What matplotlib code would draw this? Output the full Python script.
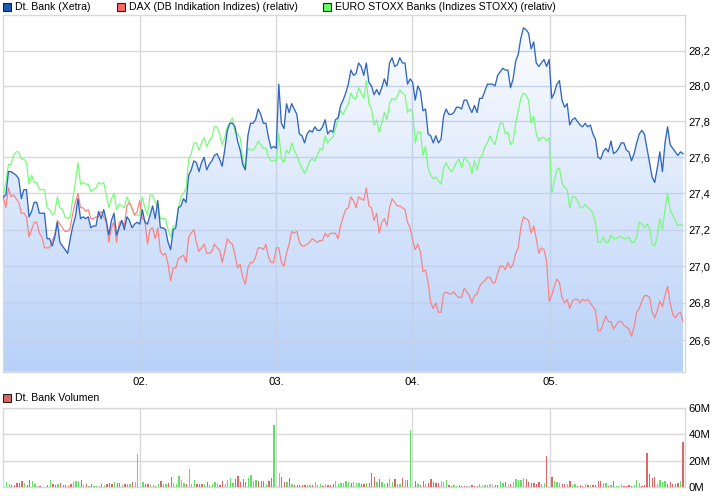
import numpy as np
import matplotlib
matplotlib.use("Agg")
import matplotlib.pyplot as plt
from matplotlib.colors import LinearSegmentedColormap
from matplotlib.patches import Rectangle

plt.rcParams['font.family'] = ['Liberation Sans', 'DejaVu Sans']

# price series (log axis)
bank = [27.38, 27.39, 27.52, 27.52, 27.51, 27.50, 27.48, 27.37, 27.42, 27.42,
        27.27, 27.30, 27.35, 27.35, 27.29, 27.29, 27.29, 27.15, 27.15, 27.11,
        27.16, 27.24, 27.13, 27.11, 27.09, 27.07, 27.15, 27.22, 27.27, 27.37,
        27.26, 27.27, 27.26, 27.27, 27.21, 27.22, 27.22, 27.30, 27.26, 27.31,
        27.25, 27.17, 27.25, 27.29, 27.17, 27.21, 27.25, 27.20, 27.27, 27.25,
        27.21, 27.23, 27.24, 27.23, 27.31, 27.24, 27.23, 27.28, 27.33, 27.26,
        27.36, 27.21, 27.21, 27.20, 27.13, 27.09, 27.20, 27.21, 27.32, 27.33,
        27.37, 27.35, 27.50,
        27.53, 27.58, 27.57, 27.52, 27.57, 27.60, 27.53, 27.56, 27.58, 27.61,
        27.62, 27.59, 27.55, 27.64, 27.75, 27.79, 27.79, 27.77, 27.69, 27.64,
        27.56, 27.53, 27.72, 27.79, 27.79, 27.81, 27.87, 27.84, 27.79, 27.79,
        27.71, 27.65, 27.66, 27.65, 28.01, 27.79, 27.76, 27.90, 27.85, 27.90,
        27.87, 27.84, 27.73, 27.72, 27.68, 27.73, 27.75, 27.74, 27.77, 27.75,
        27.75, 27.77, 27.81, 27.73, 27.75, 27.74, 27.81, 27.82, 27.89, 27.92,
        27.96, 28.01, 28.09,
        28.06, 28.07, 28.13, 28.11, 28.06, 28.13, 28.02, 28.00, 27.95, 27.98,
        27.95, 27.99, 28.04, 28.00, 28.13, 28.16, 28.11, 28.12, 28.16, 28.13,
        28.13, 28.01, 28.04, 28.02, 27.92, 28.00, 27.97, 27.86, 27.87, 27.73,
        27.72, 27.68, 27.72, 27.68, 27.70, 27.83, 27.87, 27.84, 27.84, 27.85,
        27.88, 27.88, 27.87, 27.92, 27.92, 27.88, 27.85, 27.89, 27.85, 27.93,
        27.93, 27.97, 28.01, 28.01, 28.01, 28.00, 28.06, 28.08, 28.10, 28.09,
        28.09, 27.99, 28.04, 28.14, 28.18, 28.27, 28.33, 28.32, 28.30,
        28.21, 28.25, 28.13, 28.11, 28.13, 28.15, 28.11, 28.15, 27.93, 27.96,
        28.01, 28.03, 27.92, 27.88, 27.90, 27.78, 27.81, 27.82, 27.80, 27.78,
        27.77, 27.79, 27.77, 27.78, 27.73, 27.70, 27.60, 27.59, 27.63, 27.65,
        27.63, 27.69, 27.62, 27.63, 27.65, 27.68, 27.68, 27.64, 27.63, 27.58,
        27.62, 27.68, 27.73, 27.75, 27.73, 27.65, 27.57, 27.49, 27.46, 27.54,
        27.63, 27.52, 27.68, 27.77, 27.67, 27.65, 27.63, 27.61, 27.63, 27.62]

dax = [27.38, 27.32, 27.43, 27.38, 27.39, 27.37, 27.35, 27.29, 27.29, 27.27,
       27.16, 27.20, 27.24, 27.24, 27.18, 27.16, 27.10, 27.10, 27.10, 27.14,
       27.17, 27.25, 27.23, 27.21, 27.19, 27.19, 27.21, 27.29, 27.35, 27.40,
       27.32, 27.32, 27.30, 27.31, 27.26, 27.26, 27.27, 27.27, 27.30, 27.27,
       27.24, 27.13, 27.21, 27.24, 27.13, 27.24, 27.25, 27.22, 27.33, 27.35,
       27.32, 27.28, 27.30, 27.36, 27.26, 27.25, 27.12, 27.20, 27.21, 27.15,
       27.21, 27.08, 27.06, 27.07, 27.01, 26.92, 26.99, 26.99, 27.04, 27.05,
       27.06, 27.02, 27.16,
       27.18, 27.20, 27.13, 27.08, 27.10, 27.12, 27.07, 27.07, 27.08, 27.12,
       27.10, 27.09, 27.02, 27.08, 27.15, 27.13, 27.12, 27.06, 26.99, 27.01,
       26.94, 26.90, 26.99, 27.02, 27.02, 27.05, 27.10, 27.10, 27.09, 27.12,
       27.05, 27.02, 27.02, 27.10, 27.10, 27.02, 27.00, 27.07, 27.12, 27.19,
       27.18, 27.19, 27.13, 27.11, 27.11, 27.12, 27.13, 27.15, 27.14, 27.13,
       27.14, 27.14, 27.18, 27.16, 27.18, 27.18, 27.18, 27.15, 27.22, 27.27,
       27.31, 27.32, 27.38, 27.36, 27.32, 27.38, 27.37, 27.36, 27.43, 27.33,
       27.32, 27.25, 27.29, 27.18, 27.24, 27.26, 27.22, 27.32, 27.37, 27.35,
       27.33, 27.33, 27.32, 27.31, 27.24, 27.21, 27.14, 27.09, 27.12, 27.08,
       26.97, 26.98, 26.91, 26.80, 26.77, 26.80, 26.75, 26.75, 26.85, 26.86,
       26.85, 26.85, 26.86, 26.84, 26.83, 26.83, 26.88, 26.86, 26.84, 26.80,
       26.84, 26.85, 26.89, 26.91, 26.92, 26.94, 26.94, 26.91, 26.91, 26.96,
       27.00, 27.00, 26.98, 27.02, 26.99, 27.01, 27.07, 27.10, 27.21, 27.27,
       27.26, 27.25, 27.18, 27.22, 27.15, 27.07, 27.10, 27.09, 27.03, 26.81,
       26.84, 26.89, 26.93, 26.91, 26.83, 26.80, 26.82, 26.77, 26.81, 26.82,
       26.82, 26.80, 26.82, 26.81, 26.82, 26.80, 26.78, 26.76, 26.65, 26.65,
       26.69, 26.73, 26.70, 26.70, 26.66, 26.68, 26.70, 26.70, 26.68, 26.67,
       26.66, 26.62, 26.67, 26.75, 26.77, 26.81, 26.84, 26.84, 26.83, 26.75,
       26.72, 26.76, 26.81, 26.78, 26.84, 26.89, 26.80, 26.74, 26.72, 26.74,
       26.75, 26.70]

stoxx = [27.39, 27.46, 27.56, 27.56, 27.61, 27.63, 27.63, 27.59, 27.59, 27.57,
         27.45, 27.50, 27.46, 27.46, 27.42, 27.42, 27.42, 27.32, 27.31, 27.28,
         27.29, 27.38, 27.32, 27.31, 27.27, 27.26, 27.27, 27.37, 27.46, 27.57,
         27.45, 27.46, 27.45, 27.45, 27.41, 27.42, 27.43, 27.46, 27.45, 27.46,
         27.39, 27.32, 27.37, 27.40, 27.31, 27.34, 27.33, 27.32, 27.38, 27.35,
         27.31, 27.28, 27.28, 27.28, 27.38, 27.32, 27.28, 27.39, 27.39, 27.35,
         27.33, 27.26, 27.26, 27.26, 27.20, 27.16, 27.22, 27.22, 27.32, 27.38,
         27.40, 27.43, 27.59,
         27.62, 27.68, 27.68, 27.64, 27.68, 27.71, 27.66, 27.69, 27.71, 27.77,
         27.77, 27.73, 27.67, 27.71, 27.77, 27.79, 27.82, 27.74, 27.73, 27.71,
         27.59, 27.54, 27.65, 27.64, 27.64, 27.66, 27.69, 27.67, 27.65, 27.65,
         27.60, 27.58, 27.58, 27.58, 27.73, 27.59, 27.57, 27.64, 27.62, 27.68,
         27.64, 27.61, 27.57, 27.54, 27.51, 27.54, 27.58, 27.59, 27.58, 27.61,
         27.65, 27.64, 27.72, 27.68, 27.70, 27.71, 27.76, 27.81, 27.86, 27.84,
         27.87, 27.90, 27.96,
         27.93, 27.93, 27.99, 27.96, 27.93, 28.03, 27.90, 27.87, 27.78, 27.81,
         27.74, 27.79, 27.85, 27.81, 27.90, 27.93, 27.92, 27.94, 27.98, 27.96,
         27.95, 27.85, 27.87, 27.85, 27.68, 27.74, 27.74, 27.61, 27.66, 27.54,
         27.50, 27.48, 27.49, 27.47, 27.45, 27.54, 27.57, 27.54, 27.52, 27.54,
         27.57, 27.59, 27.54, 27.60, 27.58, 27.57, 27.51, 27.58, 27.53, 27.59,
         27.61, 27.66, 27.68, 27.72, 27.69, 27.67, 27.74, 27.79, 27.79, 27.73,
         27.74, 27.67, 27.69, 27.79, 27.86, 27.93, 27.96, 27.95, 27.92,
         27.79, 27.83, 27.73, 27.69, 27.71, 27.71, 27.69, 27.71, 27.40, 27.47,
         27.53, 27.54, 27.46, 27.43, 27.42, 27.32, 27.38, 27.38, 27.36, 27.32,
         27.32, 27.34, 27.32, 27.31, 27.29, 27.24, 27.13, 27.13, 27.16, 27.13,
         27.13, 27.17, 27.15, 27.15, 27.16, 27.16, 27.15, 27.15, 27.16, 27.13,
         27.13, 27.16, 27.24, 27.23, 27.21, 27.23, 27.21, 27.12, 27.11, 27.16,
         27.26, 27.20, 27.31, 27.40, 27.31, 27.28, 27.25, 27.22, 27.23, 27.22]

# volume in millions, and whether the day closed up, down or flat
volume = [3.8, 2.3, 1.5, 1.5, 3, 3, 4.5, 3, 1.5, 5.5,
          4.5, 2.3, 1, 0.8, 0, 0, 1.5, 5.3, 2.3, 1.5,
          2.3, 3, 1.5, 1.5, 0.8, 2.3, 3.8, 4.5, 4.5, 5.3,
          1.5, 2.3, 0.8, 2.3, 0.8, 0.8, 0.8, 2.3, 1.5, 2.3,
          3, 2.3, 3.8, 3, 3, 1.5, 2.3, 2.3, 2.3, 3.8,
          3.8, 25, 0, 3.8, 2.3, 2.3, 1.5, 1.5, 0.8, 2.3,
          4.5, 2.3, 2.3, 3, 7.5, 3, 2.3, 8.3, 5.3, 3,
          2.3, 13.5, 2.3, 5.3, 2.3, 2.3, 2.3, 2.3, 3.8, 1.5,
          2.3, 3.8, 2.3, 1.5, 4.5, 2.3, 5.3, 6.8, 3, 6,
          8.3, 3.8, 6, 3.8, 6.8, 9, 4.5, 5.3, 4.5, 4.5,
          4.5, 2.3, 4.5, 6.8, 47.3, 0, 10.5, 7.5, 3.8, 3.8,
          6.8, 2.3, 1.5, 1.5, 1.5, 1.5, 1.5, 1.5, 1.5, 1.5,
          3.8, 1.5, 2.3, 0.8, 2.3, 1.5, 1.5, 2.3, 4.5, 2.3,
          3, 3, 4.5, 3.8, 3, 3.8, 3, 3, 2.3,
          2.3, 3, 3, 10.5, 7.5, 3.8, 6, 3.8, 2.3, 3,
          6, 3.8, 6, 2.3, 2.3, 6.8, 5.3, 5.3, 43, 0,
          4.5, 2.3, 1.5, 4.5, 2.3, 3, 6, 3.8, 3, 3,
          4.5, 3.8, 5.3, 1.5, 0.8, 1.5, 0.8, 1.5, 0.8, 0.8,
          0.8, 0.8, 1.5, 0.8, 0.8, 2.3, 1.5, 1.5, 1.5, 2.3,
          2.3, 1.5, 1.5, 4.5, 3, 3.8, 2.3, 2.3, 3.8, 6,
          5.3, 5.3, 6.8, 6, 3.8, 3, 3, 2.3, 3.8, 2.3,
          3, 23.5, 0, 7.5, 4.5, 3.8, 3, 2.3, 2.3, 2.3,
          4.5, 1.5, 2.3, 0.8, 1.5, 0.8, 2.3, 1.5, 1.5, 1.5,
          1.5, 4.5, 4.5, 3, 3, 0.8, 1.5, 4.5, 0.8, 0.8,
          2.3, 0.8, 0.8, 1.5, 0.8, 1.5, 5.3, 3, 0.8, 1.5,
          25.8, 9.8, 6.8, 7.5, 2.3, 5.3, 3.8, 4.5, 2.3, 3.8,
          2.3, 2.3, 3, 4.5, 34.5]
direction = list("ggrrrrrgrr" "ggnrnnrgrr" "grrrrrgggr" "grgrgggrgr"
                 "rrgrrgrggr" "ggngrrggrg" "rggrrggggg" "rgggrrrgrg"
                 "gggrrggggr" "rrrrggggrr" "rgrrgngrrg" "rgrrrrrggr"
                 "gggrgrrrgg" "ggggrgggr"
                 "rgrrrgrggr" "ggrggrgrgn" "rgrrgrrrrr" "gggrrggrrr"
                 "nnrrrgnggn" "nrrggrnrgg" "gggrrrrrrg" "grnrgggrrg"
                 "rggrrrgrgr" "rrrggrgrgg" "grrrrgggrr" "rrrrggggrr"
                 "rrrgr")

months = ["02.", "03.", "04.", "05."]
month_pos = [53.4, 106.4, 159.5, 213.1]
price_ticks = [26.6, 26.8, 27.0, 27.2, 27.4, 27.6, 27.8, 28.0, 28.2]
price_labels = ["26,6", "26,8", "27,0", "27,2", "27,4", "27,6", "27,8", "28,0", "28,2"]
vol_ticks = [0, 20, 40, 60]
vol_labels = ["0M", "20M", "40M", "60M"]

W, H = 726, 496
GRID = "#d9d9d9"
n = min(len(volume), len(direction))
volume, direction = volume[:n], direction[:n]

fig = plt.figure(figsize=(W / 100, H / 100), dpi=100)
ax = fig.add_axes([2.7 / W, 1 - 371.7 / H, 682 / W, 356.4 / H])
ax2 = fig.add_axes([2.7 / W, 1 - 487.3 / H, 682 / W, 79.6 / H])

xlim = (-0.23, 265.65)
x_bank = np.linspace(0, 265, len(bank))
x_dax = np.linspace(0, 265, len(dax))
x_stoxx = np.linspace(0, 265, len(stoxx))

ax.set_yscale("log")
ymin, ymax = 26.431, 28.402

ax.set_yticks(price_ticks)
ax.set_yticklabels(price_labels)
ax.minorticks_off()
ax.set_xticks(month_pos)
ax.set_xticklabels(months)
ax.grid(True, color=GRID, lw=1, zorder=1)
ax.set_axisbelow(True)

# gradient under the main line, clipped to the area below it
cmap = LinearSegmentedColormap.from_list("fade", ["#ffffff", "#b8d1f8"])
poly = ax.fill_between(x_bank, bank, ymin, facecolor="none", edgecolor="none")
img = ax.imshow(np.linspace(0, 1, 256).reshape(-1, 1), cmap=cmap, aspect="auto",
                extent=(0, 1, 0, 1), transform=ax.transAxes, zorder=1.5)
img.set_clip_path(poly.get_paths()[0], transform=ax.transData)

# grid shows through the fill in a blue tint
for t in price_ticks:
    l = ax.axhline(t, color="#c2d0ea", lw=1, zorder=1.6)
    l.set_clip_path(poly.get_paths()[0], transform=ax.transData)
for t in month_pos:
    l = ax.axvline(t, color="#c2d0ea", lw=1, zorder=1.6)
    l.set_clip_path(poly.get_paths()[0], transform=ax.transData)

ax.plot(x_stoxx, stoxx, color="#74fb74", lw=0.85, zorder=3)
ax.plot(x_dax, dax, color="#fb8080", lw=0.85, zorder=3.1)
ax.plot(x_bank, bank, color="#3067bd", lw=0.95, zorder=3.2)

ax.set_xlim(*xlim)
ax.set_ylim(ymin, ymax)

# volume panel
colors = {"g": "#66dd66", "r": "#dd6666", "n": "#bbbbbb"}
x_vol = np.linspace(1.3, 265, n)
ax2.bar(x_vol, volume, width=0.5, color=[colors[d] for d in direction], zorder=3)
ax2.set_xlim(*xlim)
ax2.set_ylim(0, 60)
ax2.set_yticks(vol_ticks)
ax2.set_yticklabels(vol_labels)
ax2.set_xticks(month_pos)
ax2.set_xticklabels([])
ax2.grid(True, color=GRID, lw=1, zorder=1)
ax2.set_axisbelow(True)

for a in (ax, ax2):
    a.yaxis.tick_right()
    a.tick_params(axis="both", length=0, labelsize=8.1, labelcolor="black", pad=3)
    for s in a.spines.values():
        s.set_color(GRID)
        s.set_linewidth(1)
ax.tick_params(axis="x", pad=4)


def legend_item(px, py, color, text):
    fig.add_artist(Rectangle((px / W, 1 - (py + 7.5) / H), 7.5 / W, 7.5 / H, transform=fig.transFigure,
                             facecolor=color, edgecolor="#222222", lw=0.8))
    fig.text((px + 12) / W, 1 - (py + 3.8) / H, text, fontsize=7.55, va="center", ha="left", color="black")


legend_item(3, 3, "#1a5ab8", "Dt. Bank (Xetra)")
legend_item(117, 3, "#ff6666", "DAX (DB Indikation Indizes) (relativ)")
legend_item(323, 3, "#66ff66", "EURO STOXX Banks (Indizes STOXX) (relativ)")
legend_item(3, 394, "#dd6666", "Dt. Bank Volumen")

fig.savefig("out.png", dpi=100)
